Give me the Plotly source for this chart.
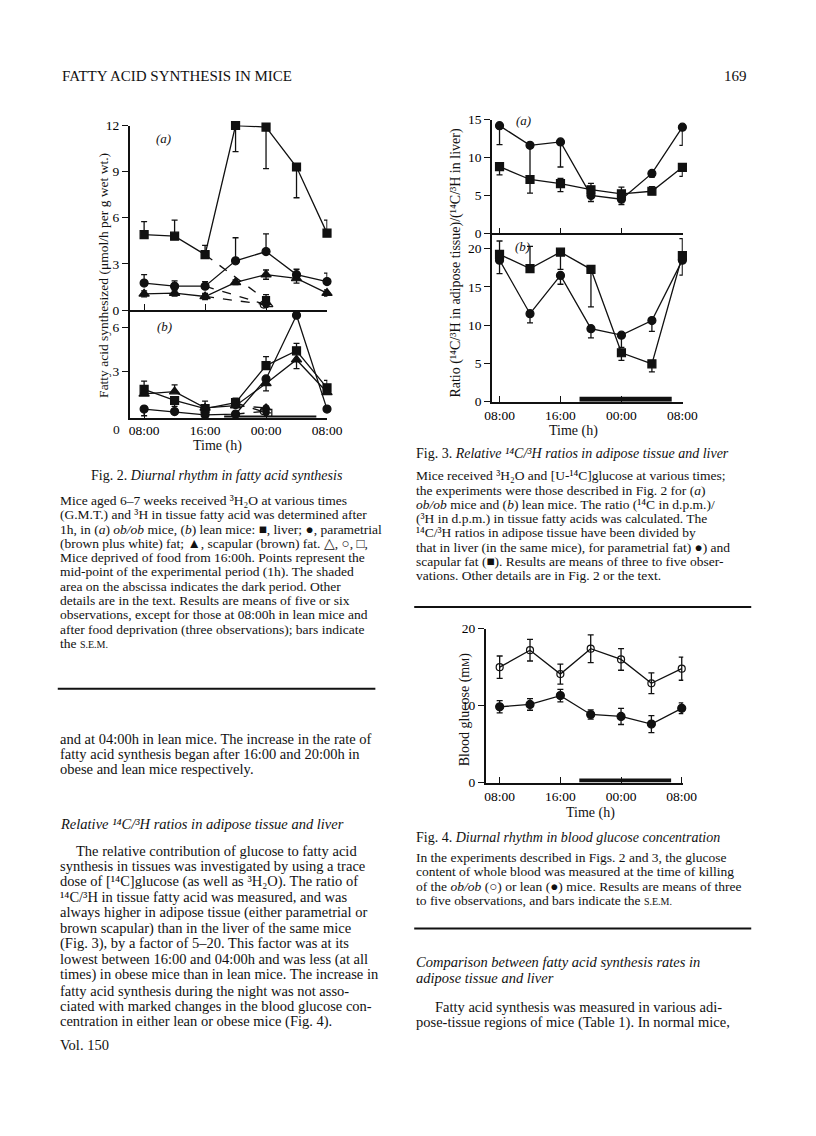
import plotly.graph_objects as go

# page is 816 x 1136; the html body keeps an 8px margin, so the figure is 800 x 1120
PAGE_W, PAGE_H = 816, 1136
BODY = 8
W, H = PAGE_W - 2 * BODY, PAGE_H - 2 * BODY

# ---- data ----
hours = [8, 12, 16, 20, 24, 28, 32]

# Fig. 2 (a) ob/ob mice, umol/h per g wet wt.
f2a_liver = [4.9, 4.8, 3.6, 12.0, 11.9, 9.3, 5.0]
f2a_liver_up = [0.85, 1.05, 0.6, 0, 0, 0, 0.85]
f2a_liver_dn = [0, 0, 0, 1.7, 2.7, 2.0, 0]
f2a_para = [1.75, 1.55, 1.55, 3.2, 3.8, 2.3, 1.85]
f2a_para_up = [0.55, 0.35, 0.3, 1.5, 1.15, 0.35, 0.55]
f2a_scap = [1.05, 1.1, 0.88, 1.8, 2.3, 2.05, 1.1]
f2a_scap_err = [0.2, 0.2, 0.2, 0.15, 0.3, 0.3, 0.2]
f2a_starved_x = [16, 24]
f2a_starved_liver = [3.6, 0.65]
f2a_starved_para = [1.55, 0.35]
f2a_starved_scap = [0.88, 0.35]

# Fig. 2 (b) lean mice
f2b_liver = [1.8, 1.05, 0.5, 0.9, 3.4, 4.4, 1.9]
f2b_liver_up = [0.55, 0, 0, 0.3, 0.6, 0.5, 0.5]
f2b_liver_dn = [0, 0.4, 0, 0, 0, 0, 0]
f2b_para = [0.47, 0.3, 0.08, 0.13, 2.5, 6.8, 0.47]
f2b_para_dn = [0.45, 0, 0, 0, 0, 0, 0]
f2b_scap = [1.5, 1.65, 0.55, 0.7, 2.2, 3.8, 1.6]
f2b_scap_up = [0, 0.45, 0.45, 0, 0, 0, 0]
f2b_scap_dn = [0, 0, 0, 0, 0.5, 0.6, 0]
f2b_starved_x = [20, 24]
f2b_starved_liver = [0.9, 0.22]
f2b_starved_para = [0.13, 0.33]
f2b_starved_scap = [0.7, 0.55]

# Fig. 3 ratios, (a) ob/ob, (b) lean
f3a_para = [14.2, 11.6, 12.05, 5.0, 4.5, 7.9, 14.0]
f3a_para_dn = [2.5, 4.2, 3.3, 0.8, 0.7, 0.5, 2.4]
f3a_scap = [8.8, 7.1, 6.55, 5.75, 5.2, 5.55, 8.7]
f3a_scap_up = [0, 0.4, 0.7, 0.85, 0.9, 0.6, 0]
f3a_scap_dn = [1.1, 1.8, 1.05, 0, 0, 0, 1.2]
f3b_para = [18.5, 11.5, 16.5, 9.55, 8.7, 10.6, 18.5]
f3b_para_dn = [1.75, 1.2, 1.15, 1.2, 1.6, 1.4, 1.95]
f3b_scap = [19.25, 17.4, 19.55, 17.3, 6.4, 4.95, 19.1]
f3b_scap_up = [1.75, 2.9, 0, 0, 0, 0, 2.2]
f3b_scap_dn = [0, 0, 2.25, 4.9, 1.0, 1.05, 0]

# Fig. 4 blood glucose (mM)
f4_obob = [15.0, 17.2, 14.1, 17.4, 16.0, 12.9, 14.8]
f4_obob_err = [1.45, 1.4, 1.3, 1.8, 1.4, 1.35, 1.5]
f4_lean = [9.85, 10.15, 11.3, 8.85, 8.6, 7.6, 9.65]
f4_lean_err = [0.8, 0.75, 0.8, 0.6, 1.05, 1.1, 0.7]

dark_period = [18.5, 30.6]
time_ticks = [8, 16, 24, 32]
time_labels = ['08:00', '16:00', '00:00', '08:00']

SERIF = 'Liberation Serif'
INK = '#111111'


# page pixel -> paper coordinates
def px(x):
    return (x - BODY) / W


def py(y):
    return 1 - (y - BODY) / H


def err(up, dn=None):
    if dn is None:
        dn = up
    return dict(type='data', symmetric=False, array=up, arrayminus=dn,
                color=INK, thickness=1.3, width=3)


def series(fig, x, y, xa, ya, symbol, up=None, dn=None, size=8, dash=None, line=True):
    zeros = [0] * len(y)
    fig.add_trace(go.Scatter(
        x=x, y=y, xaxis=xa, yaxis=ya,
        mode='lines+markers' if line else 'markers',
        line=dict(color=INK, width=1.3, dash=dash),
        marker=dict(symbol=symbol, size=size, color=INK,
                    line=dict(color=INK, width=1.2)),
        error_y=err(up if up else zeros, dn if dn else zeros),
        cliponaxis=False, showlegend=False, hoverinfo='skip'
    ))


fig = go.Figure()

# Fig 2 (a)
series(fig, f2a_starved_x, f2a_starved_liver, 'x', 'y', 'square', size=0, dash='dash')
series(fig, f2a_starved_x, f2a_starved_para, 'x', 'y', 'circle', size=0, dash='dash')
series(fig, f2a_starved_x, f2a_starved_scap, 'x', 'y', 'circle', size=0, dash='dash')
series(fig, hours, f2a_liver, 'x', 'y', 'square', f2a_liver_up, f2a_liver_dn)
series(fig, hours, f2a_para, 'x', 'y', 'circle', f2a_para_up)
series(fig, hours, f2a_scap, 'x', 'y', 'triangle-up', f2a_scap_err, f2a_scap_err, size=9)
series(fig, [24], [0.65], 'x', 'y', 'square-open', [0.35], [0], size=7, line=False)
series(fig, [23.7], [0.35], 'x', 'y', 'circle-open', size=7, line=False)
series(fig, [24.3], [0.35], 'x', 'y', 'triangle-up-open', size=8, line=False)

# Fig 2 (b)
series(fig, f2b_starved_x, f2b_starved_liver, 'x2', 'y2', 'circle', size=0, dash='dash')
series(fig, f2b_starved_x, f2b_starved_para, 'x2', 'y2', 'circle', size=0, dash='dash')
series(fig, f2b_starved_x, f2b_starved_scap, 'x2', 'y2', 'circle', size=0, dash='dash')
series(fig, hours, f2b_liver, 'x2', 'y2', 'square', f2b_liver_up, f2b_liver_dn)
series(fig, hours, f2b_para, 'x2', 'y2', 'circle', None, f2b_para_dn)
series(fig, hours, f2b_scap, 'x2', 'y2', 'triangle-up', f2b_scap_up, f2b_scap_dn, size=9)
series(fig, [24.3], [0.22], 'x2', 'y2', 'square-open', size=7, line=False)
series(fig, [23.7], [0.33], 'x2', 'y2', 'circle-open', size=7, line=False)
series(fig, [24], [0.55], 'x2', 'y2', 'triangle-up-open', size=8, line=False)

# Fig 3
series(fig, hours, f3a_para, 'x3', 'y3', 'circle', None, f3a_para_dn)
series(fig, hours, f3a_scap, 'x3', 'y3', 'square', f3a_scap_up, f3a_scap_dn)
series(fig, hours, f3b_para, 'x4', 'y4', 'circle', None, f3b_para_dn)
series(fig, hours, f3b_scap, 'x4', 'y4', 'square', f3b_scap_up, f3b_scap_dn)

# Fig 4
series(fig, hours, f4_obob, 'x5', 'y5', 'circle-open', f4_obob_err, f4_obob_err, size=7)
series(fig, hours, f4_lean, 'x5', 'y5', 'circle', f4_lean_err, f4_lean_err)

# axes
tickfont = dict(family=SERIF, size=13.5, color='black')


def xaxis(left, right, rng, anchor, labels=True):
    return dict(domain=[px(left), px(right)], range=rng, anchor=anchor,
                showline=True, linecolor=INK, linewidth=1.5, showgrid=False,
                zeroline=False, ticks='inside', ticklen=6, tickwidth=1.3,
                tickcolor=INK, tickvals=time_ticks, ticktext=time_labels,
                showticklabels=labels, tickfont=tickfont, fixedrange=True)


def yaxis(top, bottom, rng, anchor, vals):
    return dict(domain=[py(bottom), py(top)], range=rng, anchor=anchor,
                showline=True, linecolor=INK, linewidth=1.5, showgrid=False,
                zeroline=False, ticks='outside', ticklen=6, tickwidth=1.3,
                tickcolor=INK, tickvals=vals, tickfont=tickfont, fixedrange=True)


fig.update_layout(
    width=W, height=H,
    margin=dict(l=0, r=0, t=0, b=0),
    paper_bgcolor='white', plot_bgcolor='rgba(0,0,0,0)',
    showlegend=False,
    xaxis=xaxis(125, 328.6, [6.1, 32.05], 'y', labels=False),
    yaxis=yaxis(120, 307, [0, 12], 'x', [0, 3, 6, 9, 12]),
    xaxis2=xaxis(125, 328.6, [6.1, 32.05], 'y2'),
    yaxis2=yaxis(307, 416, [-0.1, 7.15], 'x2', [3, 6]),
    xaxis3=xaxis(498, 694.5, [7.0, 32.05], 'y3', labels=False),
    yaxis3=yaxis(114, 229.3, [0, 15], 'x3', [0, 5, 10, 15]),
    xaxis4=xaxis(498, 694.5, [7.0, 32.05], 'y4'),
    yaxis4=yaxis(229.3, 400, [0, 22], 'x4', [0, 5, 10, 15, 20]),
    xaxis5=xaxis(491.7, 695, [6.17, 32.2], 'y5'),
    yaxis5=yaxis(630, 786, [0, 20], 'x5', [0, 10, 20]),
)

# dark period bars on the abscissa
for xr, yr, anchor, y0, y1 in [('x2', 'y2', -0.1, -3, 2), ('x4', 'y4', 0, 0, 5),
                               ('x5', 'y5', 0, 0, 4)]:
    fig.add_shape(type='rect', xref=xr, yref=yr, x0=dark_period[0], x1=dark_period[1],
                  ysizemode='pixel', yanchor=anchor, y0=y0, y1=y1,
                  fillcolor=INK, line=dict(width=0))


def text(x, y, s, size=13.5, anchor='left', angle=0, italic=False):
    if italic:
        s = '<i>' + s + '</i>'
    fig.add_annotation(x=px(x), y=py(y), xref='paper', yref='paper', text=s,
                       showarrow=False, xanchor=anchor, yanchor='middle',
                       textangle=angle,
                       font=dict(family=SERIF, size=size, color=INK))


def rule(x0, x1, y):
    fig.add_shape(type='line', xref='paper', yref='paper', x0=px(x0), x1=px(x1),
                  y0=py(y), y1=py(y), line=dict(color=INK, width=2))


SEM = "<span style='font-size:10px'>S.E.M.</span>"

# page header
text(53, 70, 'FATTY ACID SYNTHESIS IN MICE', size=15)
text(763, 70, '169', size=15, anchor='right')

# Fig 2 labels
text(150, 133, '(a)', size=13, italic=True)
text(151, 324, '(b)', size=13, italic=True)
text(117, 428, '0', size=13.5, anchor='right')
text(98, 272, 'Fatty acid synthesized (μmol/h per g wet wt.)', size=13.5, anchor='center', angle=-90)
text(215, 445, 'Time (h)', size=14, anchor='center')
text(215, 475, 'Fig. 2. <i>Diurnal rhythm in fatty acid synthesis</i>', size=14, anchor='center')

fig2_legend = [
    'Mice aged 6–7 weeks received ³H₂O at various times',
    '(G.M.T.) and ³H in tissue fatty acid was determined after',
    '1h, in (<i>a</i>) <i>ob/ob</i> mice, (<i>b</i>) lean mice: ■, liver; ●, parametrial',
    '(brown plus white) fat; ▲, scapular (brown) fat. △, ○, □,',
    'Mice deprived of food from 16:00h. Points represent the',
    'mid-point of the experimental period (1h). The shaded',
    'area on the abscissa indicates the dark period. Other',
    'details are in the text. Results are means of five or six',
    'observations, except for those at 08:00h in lean mice and',
    'after food deprivation (three observations); bars indicate',
    'the ' + SEM,
]
for i, line in enumerate(fig2_legend):
    text(51, 500 + i * 14.5, line)
rule(51, 378, 691)

left_body = [
    'and at 04:00h in lean mice. The increase in the rate of',
    'fatty acid synthesis began after 16:00 and 20:00h in',
    'obese and lean mice respectively.',
]
for i, line in enumerate(left_body):
    text(51, 742 + i * 15.3, line, size=14.5)

text(51, 828, 'Relative ¹⁴C/³H ratios in adipose tissue and liver', size=14.5, italic=True)
para2 = [
    'The relative contribution of glucose to fatty acid',
    'synthesis in tissues was investigated by using a trace',
    'dose of [¹⁴C]glucose (as well as ³H₂O). The ratio of',
    '¹⁴C/³H in tissue fatty acid was measured, and was',
    'always higher in adipose tissue (either parametrial or',
    'brown scapular) than in the liver of the same mice',
    '(Fig. 3), by a factor of 5–20. This factor was at its',
    'lowest between 16:00 and 04:00h and was less (at all',
    'times) in obese mice than in lean mice. The increase in',
    'fatty acid synthesis during the night was not asso-',
    'ciated with marked changes in the blood glucose con-',
    'centration in either lean or obese mice (Fig. 4).',
]
for i, line in enumerate(para2):
    text(68 if i == 0 else 51, 855 + i * 15.75, line, size=14.5)
text(51, 1052, 'Vol. 150', size=14.5)

# Fig 3 labels
text(521, 115, '(a)', size=13, italic=True)
text(520, 243, '(b)', size=13, italic=True)
text(461, 259, 'Ratio (¹⁴C/³H in adipose tissue)/(¹⁴C/³H in liver)',
     size=14, anchor='center', angle=-90)
text(582, 430, 'Time (h)', size=14, anchor='center')
text(418, 452, 'Fig. 3. <i>Relative ¹⁴C/³H ratios in adipose tissue and liver</i>', size=14)

fig3_legend = [
    'Mice received ³H₂O and [U-¹⁴C]glucose at various times;',
    'the experiments were those described in Fig. 2 for (<i>a</i>)',
    '<i>ob/ob</i> mice and (<i>b</i>) lean mice. The ratio (¹⁴C in d.p.m.)/',
    '(³H in d.p.m.) in tissue fatty acids was calculated. The',
    '¹⁴C/³H ratios in adipose tissue have been divided by',
    'that in liver (in the same mice), for parametrial fat) ●) and',
    'scapular fat (■). Results are means of three to five obser-',
    'vations. Other details are in Fig. 2 or the text.',
]
for i, line in enumerate(fig3_legend):
    text(418, 475 + i * 14.5, line)
rule(418, 765, 608)

# Fig 4 labels
text(470, 712, 'Blood glucose (m<span style="font-size:10px">M</span>)', size=14, anchor='center', angle=-90)
text(600, 817, 'Time (h)', size=14, anchor='center')
text(418, 842, 'Fig. 4. <i>Diurnal rhythm in blood glucose concentration</i>', size=14)
fig4_legend = [
    'In the experiments described in Figs. 2 and 3, the glucose',
    'content of whole blood was measured at the time of killing',
    'of the <i>ob/ob</i> (○) or lean (●) mice. Results are means of three',
    'to five observations, and bars indicate the ' + SEM,
]
for i, line in enumerate(fig4_legend):
    text(418, 862 + i * 14.5, line)
rule(418, 765, 934)

text(418, 968, 'Comparison between fatty acid synthesis rates in', size=14.5, italic=True)
text(418, 984, 'adipose tissue and liver', size=14.5, italic=True)
text(437, 1013, 'Fatty acid synthesis was measured in various adi-', size=14.5)
text(418, 1029, 'pose-tissue regions of mice (Table 1). In normal mice,', size=14.5)

fig.write_html('out.html', config={'displayModeBar': False})
